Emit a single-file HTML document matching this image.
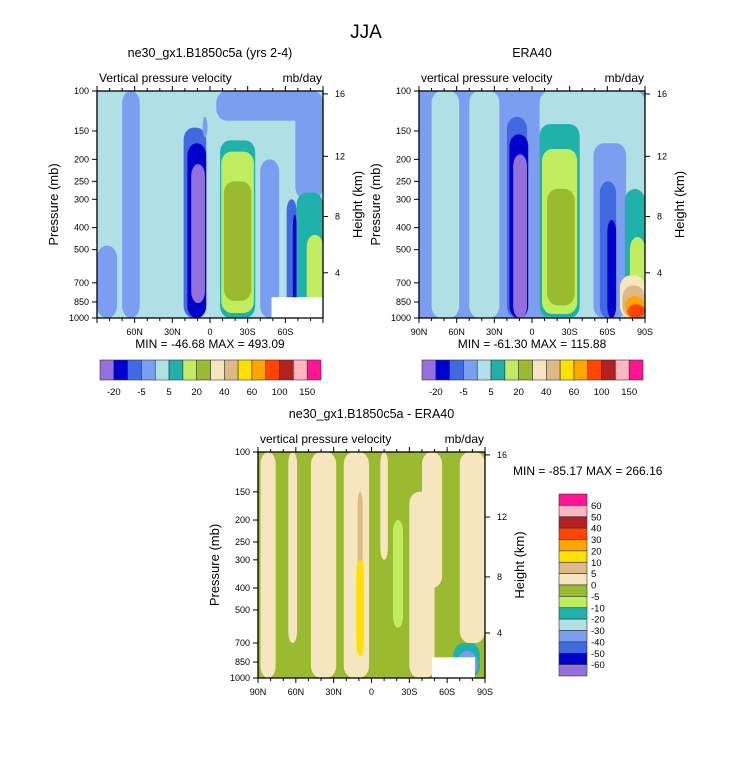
<!DOCTYPE html>
<html><head><meta charset="utf-8">
<style>
html,body{margin:0;padding:0;background:#fff;}
svg{display:block;font-family:"Liberation Sans",sans-serif;}
</style></head>
<body>
<svg id="fig" width="733" height="774" viewBox="0 0 733 774" xmlns="http://www.w3.org/2000/svg">
<text x="366" y="38" font-size="19" text-anchor="middle">JJA</text>
</svg>
<script>
// level colors (16 levels)
const levelColors = ["#9370db","#0000cd","#4169e1","#7b9ef0","#b0e0e6","#20b2aa","#c0ed60","#9aba30","#f5e6c0","#deb887","#ffe000","#ffa500","#ff4500","#b22222","#ffb6c1","#ff1493"];
const topBarLabels = ["-20","-5","5","20","40","60","100","150"];
const diffBarLabels = ["60","50","40","30","20","10","5","0","-5","-10","-20","-30","-40","-50","-60"];
const latTicks = [90,60,30,0,-30,-60,-90];
const latTickLabels = ["90N","60N","30N","0","30S","60S","90S"];
const pressTicks = [100,150,200,250,300,400,500,700,850,1000];
const heightTicks = [16,12,8,4];
const heightTickP = [103,194,357,632];

// model panel features: lat1, lat2, pTop, pBot, level
const mLat1 = [90, 70, -5, -40, -68, 21, 18, 15, -8, -9, -11, -61, -66, -69, -77, 6];
const mLat2 = [74, 56, -90, -55, -90, 3, 3, 4, -36, -35, -33, -69, -69, -90, -90, 2];
const mTop  = [480,100,100,200,100,145,170,210,165,185,250,300,350,280,430,130];
const mBot  = [1000,1000,135,1000,300,1000,1000,860,1000,950,840,1000,1000,1000,1000,160];
const mLev  = [3,3,3,3,3,2,1,0,5,6,7,2,1,5,6,3];
// ERA40 panel features
const eLat1 = [80, 50, -6, -49, 20, 18, 15, -6, -8, -12, -54, -60, -74, -78, -70, -72, -74, -76];
const eLat2 = [58, 26, -90, -75, 4, 3, 4, -38, -36, -34, -67, -67, -90, -90, -90, -90, -90, -90];
const eTop  = [100,100,100,170,130,155,190,140,180,270,250,370,270,440,650,720,800,870];
const eBot  = [1000,1000,1000,1000,1000,1000,1000,1000,960,880,1000,1000,1000,1000,1000,1000,1000,1000];
const eLev  = [4,4,4,3,2,1,0,5,6,7,2,1,5,6,8,9,11,12];
// difference panel features
const dLat1 = [88, 66, 48, 22, 11, 12, -7, -17, -30, -40, -70, -65, -68, -70];
const dLat2 = [76, 59, 28, 2, 7, 6, -13, -25, -50, -56, -90, -86, -84, -80];
const dTop  = [100,100,100,100,150,300,100,200,150,100,100,700,760,820];
const dBot  = [1000,700,1000,1000,800,800,300,600,1000,400,700,1000,1000,1000];
const dLev  = [8,8,8,8,9,10,8,6,8,8,8,5,3,0];

const NS="http://www.w3.org/2000/svg";
const svg=document.getElementById('fig');
function el(tag,attrs,parent){const e=document.createElementNS(NS,tag);for(const k in attrs)e.setAttribute(k,attrs[k]);(parent||svg).appendChild(e);return e;}
function txt(s,attrs,parent){const e=el('text',attrs,parent);e.textContent=s;return e;}

function panel(cfg){
  const {x0,y0,w,h,bg,lat1,lat2,top,bot,lev,name,title,sub,white,skipEnds,minmax}=cfg;
  const xs=lat=>x0+(90-lat)/180*w;
  const ys=p=>y0+Math.log10(p/100)*h;
  const g=el('g',{});
  
  
  const clip=el('clipPath',{id:'c'+name},g);
  el('rect',{x:x0,y:y0,width:w,height:h},clip);
  const bgr=el('rect',{x:x0,y:y0,width:w,height:h,fill:levelColors[bg]},g);
  
  
  const fg=el('g',{'clip-path':'url(#c'+name+')'},g);
  for(let i=0;i<lat1.length;i++){
    const a=xs(lat1[i]),b=xs(lat2[i]),t=ys(top[i]),bb=ys(bot[i]);
    const wd=b-a;
    const r=el('rect',{x:a,y:t,width:wd,height:bb-t,rx:Math.min(wd/2,10),ry:Math.min(12,(bb-t)/2),fill:levelColors[lev[i]]},fg);
    
    
  }
  if(white){const wr=el('rect',{x:xs(white[0]),y:ys(810),width:xs(white[1])-xs(white[0]),height:ys(1000)-ys(810),fill:'#fff'},fg);
    }
  el('rect',{x:x0,y:y0,width:w,height:h,fill:'none',stroke:'#000','stroke-width':1.3},g);
  // lat ticks
  for(let lat=90;lat>=-90;lat-=10){
    const x=xs(lat);const major=lat%30===0;
    el('line',{x1:x,x2:x,y1:y0+h,y2:y0+h+(major?5:3),stroke:'#000'},g);
    el('line',{x1:x,x2:x,y1:y0,y2:y0-(major?5:3),stroke:'#000'},g);
  }
  latTicks.forEach((lat,i)=>{
    if(skipEnds&&(i===0||i===latTicks.length-1))return;
    const t=txt(latTickLabels[i],{x:xs(lat),y:y0+h+17,'font-size':9,'text-anchor':'middle'},g);
    
  });
  pressTicks.forEach(p=>{
    const y=ys(p);
    el('line',{x1:x0-5,x2:x0,y1:y,y2:y,stroke:'#000'},g);
    const t=txt(String(p),{x:x0-8,y:y+3,'font-size':9,'text-anchor':'end'},g);
    
  });
  heightTicks.forEach((hk,i)=>{
    const y=ys(heightTickP[i]);
    el('line',{x1:x0+w,x2:x0+w+5,y1:y,y2:y,stroke:'#000'},g);
    const t=txt(String(hk),{x:x0+w+12,y:y+3,'font-size':9},g);
    
  });
  const tt=txt(title,{x:x0+w/2,y:y0-34,'font-size':12.5,'text-anchor':'middle'},g);
  
  const st=txt(sub,{x:x0+2,y:y0-9,'font-size':12},g);
  
  const un=txt('mb/day',{x:x0+w-1,y:y0-9,'font-size':12,'text-anchor':'end'},g);
  
  const yl=txt('Pressure (mb)',{x:0,y:0,'font-size':13,'text-anchor':'middle',transform:`translate(${x0-39},${y0+h/2}) rotate(-90)`},g);
  
  const hl=txt('Height (km)',{x:0,y:0,'font-size':13,'text-anchor':'middle',transform:`translate(${x0+w+39},${y0+h/2}) rotate(-90)`},g);
  
  if(minmax){
    const m=txt(minmax[0],{x:minmax[1],y:minmax[2],'font-size':12,'text-anchor':minmax[3]},g);
    
  }
}
panel({x0:97,y0:91,w:226,h:227,bg:4,lat1:mLat1,lat2:mLat2,top:mTop,bot:mBot,lev:mLev,name:'model-panel',title:'ne30_gx1.B1850c5a (yrs 2-4)',sub:'Vertical pressure velocity',white:[-49,-90],skipEnds:true,minmax:['MIN = -46.68  MAX = 493.09',210,348,'middle']});
panel({x0:419,y0:91,w:226,h:227,bg:3,lat1:eLat1,lat2:eLat2,top:eTop,bot:eBot,lev:eLev,name:'era40-panel',title:'ERA40',sub:'vertical pressure velocity',white:null,skipEnds:false,minmax:['MIN = -61.30  MAX = 115.88',532,348,'middle']});
panel({x0:258,y0:452,w:227,h:226,bg:7,lat1:dLat1,lat2:dLat2,top:dTop,bot:dBot,lev:dLev,name:'difference-panel',title:'ne30_gx1.B1850c5a - ERA40',sub:'vertical pressure velocity',white:[-48,-82],skipEnds:false,minmax:['MIN = -85.17  MAX = 266.16',513,475,'start']});

function hbar(x0,y0,w,h,name){
  const g=el('g',{});
  const bw=w/levelColors.length;
  levelColors.forEach((c,i)=>{const r=el('rect',{x:x0+i*bw,y:y0,width:bw,height:h,fill:c,stroke:'#333','stroke-width':0.6},g);
    });
  topBarLabels.forEach((s,i)=>{const t=txt(s,{x:x0+(2*i+1)*bw,y:y0+h+15,'font-size':9.5,'text-anchor':'middle'},g);
    });
}
hbar(100,360,221,20,'model-colorbar');
hbar(422,360,221,20,'era40-colorbar');
(function(){
  const x0=559,y0=494,w=28,h=182;
  const g=el('g',{});
  const bh=h/16;
  const rev=levelColors.slice().reverse();
  rev.forEach((c,i)=>{const r=el('rect',{x:x0,y:y0+i*bh,width:w,height:bh,fill:c,stroke:'#333','stroke-width':0.6},g);
    });
  diffBarLabels.forEach((s,i)=>{const t=txt(s,{x:x0+w+4,y:y0+(i+1)*bh+3.5,'font-size':9.5},g);
    });
})();
</script>
</body></html>
